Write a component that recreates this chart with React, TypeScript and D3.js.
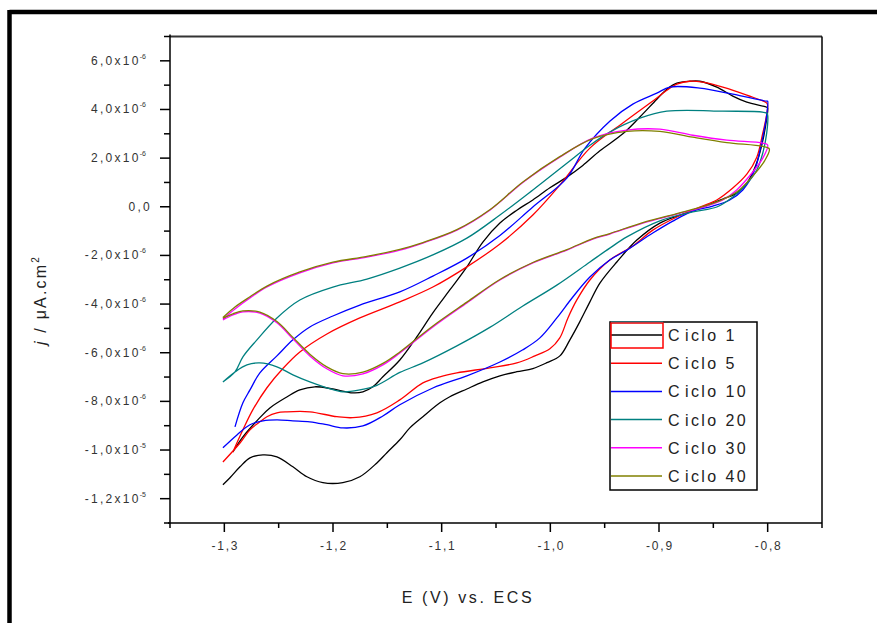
import React from "react";
import * as d3 from "d3";

// ---- data (E in V, j in units of 1e-6) ----
const cycle1: [number, number][] = [
  [-1.2921, -10.08], [-1.2829, -9.46], [-1.2673, -8.67], [-1.2581, -8.27], [-1.2425, -7.82],
  [-1.2305, -7.53], [-1.2167, -7.40], [-1.2001, -7.49], [-1.1817, -7.65], [-1.1725, -7.61],
  [-1.1633, -7.40], [-1.1541, -6.99], [-1.1385, -6.30], [-1.1229, -5.35], [-1.1081, -4.36],
  [-1.0925, -3.42], [-1.0768, -2.47], [-1.0621, -1.45], [-1.0464, -0.67], [-1.0308, -0.14],
  [-1.0161, 0.28], [-1.0004, 0.78], [-0.9848, 1.22], [-0.9701, 1.70], [-0.9544, 2.30],
  [-0.9333, 3.00], [-0.9176, 3.69], [-0.9020, 4.42], [-0.8928, 4.83], [-0.8836, 5.08],
  [-0.8716, 5.16], [-0.8624, 5.16], [-0.8468, 4.92], [-0.8321, 4.55], [-0.8192, 4.30],
  [-0.8008, 4.09], [-0.8000, 4.06],
  [-0.8018, 3.36], [-0.8054, 2.54], [-0.8109, 1.71], [-0.8192, 0.97], [-0.8284, 0.56],
  [-0.8413, 0.32], [-0.8597, -0.01], [-0.8781, -0.30], [-0.8992, -0.67], [-0.9204, -1.37],
  [-0.9388, -2.27], [-0.9544, -3.14], [-0.9636, -3.91], [-0.9728, -4.72], [-0.9820, -5.47],
  [-0.9912, -6.13], [-1.0032, -6.41], [-1.0161, -6.65], [-1.0308, -6.78], [-1.0464, -6.95],
  [-1.0621, -7.20], [-1.0768, -7.49], [-1.0925, -7.81], [-1.1016, -8.06], [-1.1173, -8.63],
  [-1.1293, -9.09], [-1.1385, -9.58], [-1.1504, -10.11], [-1.1596, -10.53], [-1.1753, -11.10],
  [-1.1909, -11.34], [-1.2093, -11.34], [-1.2240, -11.10], [-1.2369, -10.69], [-1.2516, -10.28],
  [-1.2645, -10.20], [-1.2764, -10.32], [-1.2856, -10.69], [-1.2948, -11.14], [-1.3013, -11.43],
];

const cycle5: [number, number][] = [
  [-1.2921, -10.08], [-1.2829, -9.17], [-1.2737, -8.34], [-1.2608, -7.44], [-1.2461, -6.65],
  [-1.2305, -5.97], [-1.2056, -5.23], [-1.1753, -4.57], [-1.1385, -3.91], [-1.1081, -3.30],
  [-1.0768, -2.47], [-1.0464, -1.53], [-1.0161, -0.34], [-0.9913, 0.89], [-0.9636, 2.41],
  [-0.9333, 3.44], [-0.9020, 4.47], [-0.8928, 4.79], [-0.8836, 5.04], [-0.8716, 5.16],
  [-0.8597, 5.12], [-0.8413, 4.92], [-0.8192, 4.59], [-0.8008, 4.26], [-0.8000, 4.15],
  [-0.8018, 3.57], [-0.8045, 3.03], [-0.8100, 2.04], [-0.8192, 1.34], [-0.8321, 0.77],
  [-0.8468, 0.28], [-0.8624, -0.01], [-0.8836, -0.42], [-0.9057, -0.96], [-0.9241, -1.61],
  [-0.9453, -2.19], [-0.9636, -3.01], [-0.9756, -3.83], [-0.9838, -4.57], [-0.9913, -5.39],
  [-1.0004, -5.84], [-1.0142, -6.13], [-1.0308, -6.42], [-1.0557, -6.62], [-1.0860, -6.83],
  [-1.1016, -6.99], [-1.1173, -7.24], [-1.1385, -7.94], [-1.1596, -8.47], [-1.1817, -8.67],
  [-1.1964, -8.63], [-1.2213, -8.43], [-1.2424, -8.43], [-1.2516, -8.47], [-1.2608, -8.63],
  [-1.2673, -8.84], [-1.2764, -9.17], [-1.2856, -9.71], [-1.3013, -10.49],
];

const cycle10: [number, number][] = [
  [-1.2902, -9.05], [-1.2829, -8.06], [-1.2764, -7.53], [-1.2673, -6.83], [-1.2516, -6.13],
  [-1.2369, -5.47], [-1.2213, -4.94], [-1.2001, -4.49], [-1.1753, -4.04], [-1.1385, -3.50],
  [-1.1081, -2.85], [-1.0768, -2.11], [-1.0464, -1.18], [-1.0161, -0.01], [-0.9848, 1.18],
  [-0.9682, 2.40], [-0.9453, 3.52], [-0.9241, 4.22], [-0.9020, 4.67], [-0.8900, 4.92],
  [-0.8624, 4.88], [-0.8321, 4.63], [-0.8008, 4.34], [-0.8000, 4.34],
  [-0.8009, 3.77], [-0.8027, 3.27], [-0.8064, 2.45], [-0.8119, 1.51], [-0.8229, 0.69],
  [-0.8349, 0.28], [-0.8505, 0.03], [-0.8689, -0.18], [-0.8873, -0.59], [-0.9057, -1.08],
  [-0.9296, -1.78], [-0.9453, -2.19], [-0.9636, -2.89], [-0.9793, -3.71], [-0.9940, -4.57],
  [-1.0096, -5.39], [-1.0253, -5.88], [-1.0464, -6.38], [-1.0768, -6.95], [-1.1081, -7.45],
  [-1.1385, -8.14], [-1.1541, -8.60], [-1.1725, -9.01], [-1.1909, -9.09], [-1.2057, -8.96],
  [-1.2213, -8.84], [-1.2369, -8.80], [-1.2516, -8.76], [-1.2645, -8.80], [-1.2764, -8.96],
  [-1.2884, -9.38], [-1.3013, -9.91],
];

const cycle20: [number, number][] = [
  [-1.3013, -7.20], [-1.2902, -6.79], [-1.2829, -6.17], [-1.2700, -5.47], [-1.2516, -4.57],
  [-1.2305, -3.83], [-1.2001, -3.30], [-1.1688, -2.97], [-1.1385, -2.52], [-1.1081, -1.98],
  [-1.0768, -1.29], [-1.0464, -0.34], [-1.0161, 0.69], [-0.9848, 1.79], [-0.9636, 2.53],
  [-0.9453, 3.07], [-0.9176, 3.64], [-0.8928, 3.93], [-0.8413, 3.93], [-0.8008, 3.85],
  [-0.8000, 3.77], [-0.8009, 3.03], [-0.8045, 2.21], [-0.8100, 1.51], [-0.8192, 0.94],
  [-0.8321, 0.40], [-0.8468, -0.01], [-0.8689, -0.21], [-0.8992, -0.58], [-0.9296, -1.24],
  [-0.9453, -1.70], [-0.9636, -2.27], [-0.9940, -3.22], [-1.0253, -4.08], [-1.0557, -4.96],
  [-1.0860, -5.72], [-1.1173, -6.42], [-1.1385, -6.81], [-1.1596, -7.34], [-1.1753, -7.53],
  [-1.1909, -7.61], [-1.2057, -7.44], [-1.2213, -7.20], [-1.2369, -6.91], [-1.2516, -6.58],
  [-1.2673, -6.42], [-1.2792, -6.50], [-1.2902, -6.79], [-1.3013, -7.20],
];

const cycle30: [number, number][] = [
  [-1.3013, -4.61], [-1.2902, -4.20], [-1.2764, -3.75], [-1.2608, -3.30], [-1.2305, -2.72],
  [-1.2001, -2.31], [-1.1688, -2.07], [-1.1385, -1.78], [-1.1173, -1.49], [-1.0860, -0.96],
  [-1.0557, -0.14], [-1.0253, 1.00], [-0.9913, 2.04], [-0.9609, 2.82], [-0.9296, 3.15],
  [-0.8992, 3.19], [-0.8689, 2.94], [-0.8376, 2.74], [-0.8045, 2.62], [-0.8000, 2.54],
  [-0.8045, 2.00], [-0.8137, 1.43], [-0.8285, 0.69], [-0.8413, 0.28], [-0.8560, 0.03],
  [-0.8836, -0.30], [-0.9149, -0.67], [-0.9453, -1.12], [-0.9609, -1.33], [-0.9848, -1.78],
  [-1.0161, -2.31], [-1.0464, -3.01], [-1.0768, -3.95], [-1.1081, -4.94], [-1.1385, -6.01],
  [-1.1541, -6.50], [-1.1725, -6.87], [-1.1909, -6.95], [-1.2057, -6.66], [-1.2213, -6.13],
  [-1.2369, -5.43], [-1.2516, -4.77], [-1.2673, -4.37], [-1.2829, -4.32], [-1.2921, -4.45],
  [-1.3013, -4.65],
];

const cycle40: [number, number][] = [
  [-1.3013, -4.55], [-1.2902, -4.12], [-1.2764, -3.70], [-1.2608, -3.26], [-1.2305, -2.68],
  [-1.2001, -2.28], [-1.1688, -2.04], [-1.1385, -1.75], [-1.1173, -1.47], [-1.0860, -0.94],
  [-1.0557, -0.12], [-1.0253, 1.02], [-0.9913, 2.06], [-0.9609, 2.80], [-0.9296, 3.10],
  [-0.8992, 3.10], [-0.8689, 2.86], [-0.8376, 2.64], [-0.8045, 2.48], [-0.7985, 2.38],
  [-0.8027, 1.90], [-0.8120, 1.35], [-0.8270, 0.66], [-0.8413, 0.30], [-0.8560, 0.06],
  [-0.8836, -0.28], [-0.9149, -0.65], [-0.9453, -1.10], [-0.9609, -1.31], [-0.9848, -1.76],
  [-1.0161, -2.29], [-1.0464, -2.99], [-1.0768, -3.92], [-1.1081, -4.90], [-1.1385, -5.97],
  [-1.1541, -6.44], [-1.1725, -6.80], [-1.1909, -6.86], [-1.2057, -6.58], [-1.2213, -6.06],
  [-1.2369, -5.37], [-1.2516, -4.72], [-1.2673, -4.33], [-1.2829, -4.28], [-1.2921, -4.40],
  [-1.3013, -4.58],
];

const seriesNames = ["Ciclo 1", "Ciclo 5", "Ciclo 10", "Ciclo 20", "Ciclo 30", "Ciclo 40"];
const seriesColors = ["#000000", "#ff0000", "#0000ff", "#008080", "#ff00ff", "#808000"];
const seriesData = [cycle1, cycle5, cycle10, cycle20, cycle30, cycle40];

const xTicks = [-1.3, -1.2, -1.1, -1.0, -0.9, -0.8];
const xTickLabels = ["-1,3", "-1,2", "-1,1", "-1,0", "-0,9", "-0,8"];
const xMinorTicks = [-1.35, -1.25, -1.15, -1.05, -0.95, -0.85, -0.75];
const yTicks = [-12, -10, -8, -6, -4, -2, 0, 2, 4, 6];
const yTickMantissa = ["-1,2x10", "-1,0x10", "-8,0x10", "-6,0x10", "-4,0x10", "-2,0x10", "0,0", "2,0x10", "4,0x10", "6,0x10"];
const yTickExp = ["-5", "-5", "-6", "-6", "-6", "-6", "", "-6", "-6", "-6"];
const yMinorTicks = [-13, -11, -9, -7, -5, -3, -1, 1, 3, 5, 7];

const FONT = "Arial, 'Liberation Sans', sans-serif";

export default function App() {
  const left = 170, right = 822, top = 36.5, bottom = 523;
  const x = d3.scaleLinear().domain([-1.35, -0.75]).range([left, right]);
  const y = d3.scaleLinear().domain([-13, 7]).range([bottom, top]);
  const line = d3
    .line<[number, number]>()
    .x((d) => x(d[0]))
    .y((d) => y(d[1]))
    .curve(d3.curveCatmullRom.alpha(0.5));

  const legX = 610, legY = 322, legW = 147, legH = 168;
  const rowY = (i: number) => 335 + i * 28.2;

  return (
    <svg
      width={877}
      height={623}
      style={{ position: "absolute", left: 0, top: 0, background: "#fff" }}
      fontFamily={FONT}
    >
      <rect x={0} y={0} width={877} height={623} fill="#fff" />
      {/* outer frame */}
      <line x1={9.5} y1={12} x2={877} y2={12} stroke="#000" strokeWidth={4.5} />
      <line x1={9.5} y1={10} x2={9.5} y2={623} stroke="#000" strokeWidth={4.5} />

      {/* plot frame */}
      <line x1={left} y1={top} x2={right} y2={top} stroke="#333" strokeWidth={2} />
      <line x1={right} y1={top} x2={right} y2={bottom} stroke="#000" strokeWidth={1.5} />
      <line x1={left} y1={top - 2} x2={left} y2={bottom} stroke="#000" strokeWidth={1.5} />
      <line x1={left - 2} y1={bottom} x2={right} y2={bottom} stroke="#000" strokeWidth={1.5} />

      {/* x ticks */}
      {xTicks.map((t, i) => (
        <g key={"xt" + i}>
          <line x1={x(t)} x2={x(t)} y1={bottom} y2={bottom + 9} stroke="#000" strokeWidth={1.5} />
          <text
            x={x(t) + 1}
            y={bottom + 27}
            textAnchor="middle"
            fontSize={12}
            fill="#333"
            letterSpacing={1.8}
          >
            {xTickLabels[i]}
          </text>
        </g>
      ))}
      {xMinorTicks.map((t, i) => (
        <line key={"xm" + i} x1={x(t)} x2={x(t)} y1={bottom} y2={bottom + 5} stroke="#000" strokeWidth={1.5} />
      ))}

      {/* y ticks */}
      {yTicks.map((t, i) => (
        <g key={"yt" + i}>
          <line x1={left - 10} x2={left} y1={y(t)} y2={y(t)} stroke="#000" strokeWidth={1.5} />
          {yTickExp[i] ? (
            <text x={left - 24} y={y(t) + 4} textAnchor="end" fontSize={12} fill="#333" letterSpacing={2.3}>
              {yTickMantissa[i]}
              <tspan fontSize={7} dy={-6} dx={-1} letterSpacing={0}>
                {yTickExp[i]}
              </tspan>
            </text>
          ) : (
            <text x={left - 18} y={y(t) + 4} textAnchor="end" fontSize={12} fill="#333" letterSpacing={2.3}>
              {yTickMantissa[i]}
            </text>
          )}
        </g>
      ))}
      {yMinorTicks.map((t, i) => (
        <line key={"ym" + i} x1={left - 6} x2={left} y1={y(t)} y2={y(t)} stroke="#000" strokeWidth={1.5} />
      ))}

      {/* axis titles */}
      <text x={468} y={603} textAnchor="middle" fontSize={16} fill="#222" letterSpacing={2.6}>
        E (V) vs. ECS
      </text>
      <text
        transform="translate(46,300) rotate(-90)"
        textAnchor="middle"
        fontSize={16}
        fill="#222"
        letterSpacing={2.2}
      >
        <tspan fontStyle="italic">j</tspan>
        <tspan> / μA.cm</tspan>
        <tspan fontSize={10} dy={-7}>2</tspan>
      </text>

      {/* series */}
      <g clipPath="url(#plotclip)">
        {seriesData.map((d, i) => (
          <path key={"s" + i} d={line(d) || ""} fill="none" stroke={seriesColors[i]} strokeWidth={1.3} />
        ))}
      </g>
      <defs>
        <clipPath id="plotclip">
          <rect x={left} y={top} width={right - left} height={bottom - top} />
        </clipPath>
      </defs>

      {/* legend */}
      <rect x={legX} y={legY} width={legW} height={legH} fill="#fff" stroke="#000" strokeWidth={1.5} />
      {seriesNames.map((n, i) => (
        <g key={"lg" + i}>
          <line x1={legX + 1} x2={legX + 52} y1={rowY(i)} y2={rowY(i)} stroke={seriesColors[i]} strokeWidth={1.5} />
          <text x={legX + 58} y={rowY(i) + 6} fontSize={16} fill="#222" letterSpacing={2.4}>
            <tspan>{n.slice(0, 1)}</tspan>
            <tspan dx={3}>{n.slice(1)}</tspan>
          </text>
        </g>
      ))}
      <line x1={legX + 1} x2={legX + 53} y1={legY + 0.5} y2={legY + 0.5} stroke="#00e5ff" strokeWidth={1.5} />
      <rect x={legX + 1} y={legY + 1} width={52} height={25} fill="none" stroke="#ff0000" strokeWidth={1.5} />
    </svg>
  );
}
